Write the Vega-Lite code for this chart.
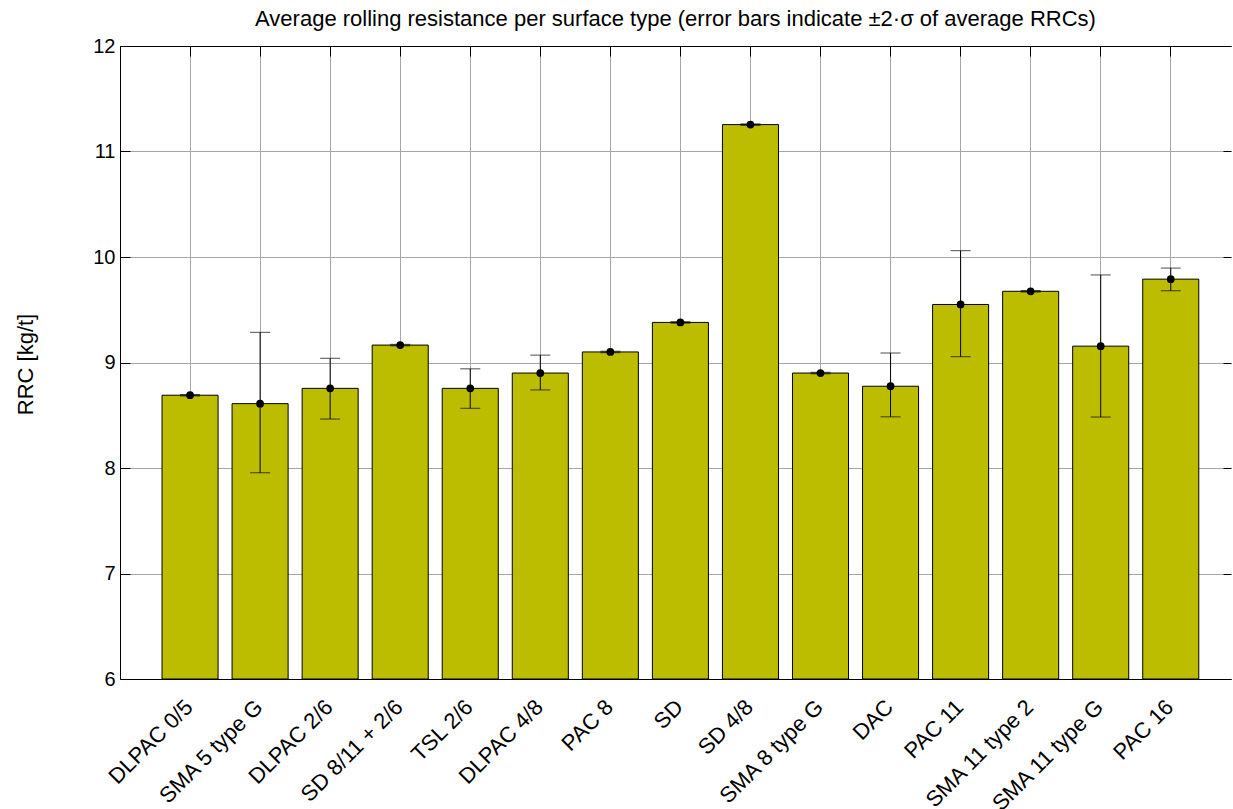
{
  "$schema": "https://vega.github.io/schema/vega-lite/v6.json",
  "width": 1111,
  "height": 633,
  "autosize": {"type": "none"},
  "padding": {"left": 120, "top": 46, "right": 2, "bottom": 130},
  "background": "white",
  "title": {
    "text": "Average rolling resistance per surface type (error bars indicate ±2·σ of average RRCs)",
    "font": "Liberation Sans",
    "fontSize": 22,
    "fontWeight": "normal",
    "color": "black",
    "offset": 5,
    "anchor": "middle"
  },
  "config": {
    "view": {"stroke": null},
    "axis": {
      "labelFont": "Liberation Sans",
      "titleFont": "Liberation Sans",
      "labelColor": "black",
      "titleColor": "black",
      "labelFontSize": 20,
      "titleFontSize": 22,
      "titleFontWeight": "normal",
      "domainColor": "black",
      "domainWidth": 1,
      "tickColor": "black",
      "tickWidth": 1,
      "gridColor": "#a6a6a6",
      "gridOpacity": 1,
      "gridWidth": 1
    }
  },
  "data": {
    "values": [
      {"surface": "DLPAC 0/5", "rrc": 8.69, "lo": 8.683, "hi": 8.697},
      {"surface": "SMA 5 type G", "rrc": 8.61, "lo": 7.955, "hi": 9.286},
      {"surface": "DLPAC 2/6", "rrc": 8.755, "lo": 8.464, "hi": 9.04},
      {"surface": "SD 8/11 + 2/6", "rrc": 9.165, "lo": 9.158, "hi": 9.172},
      {"surface": "TSL 2/6", "rrc": 8.755, "lo": 8.566, "hi": 8.94},
      {"surface": "DLPAC 4/8", "rrc": 8.9, "lo": 8.74, "hi": 9.07},
      {"surface": "PAC 8", "rrc": 9.1, "lo": 9.093, "hi": 9.107},
      {"surface": "SD", "rrc": 9.38, "lo": 9.373, "hi": 9.387},
      {"surface": "SD 4/8", "rrc": 11.255, "lo": 11.248, "hi": 11.262},
      {"surface": "SMA 8 type G", "rrc": 8.9, "lo": 8.893, "hi": 8.907},
      {"surface": "DAC", "rrc": 8.775, "lo": 8.485, "hi": 9.09},
      {"surface": "PAC 11", "rrc": 9.55, "lo": 9.055, "hi": 10.06},
      {"surface": "SMA 11 type 2", "rrc": 9.675, "lo": 9.668, "hi": 9.682},
      {"surface": "SMA 11 type G", "rrc": 9.155, "lo": 8.483, "hi": 9.83},
      {"surface": "PAC 16", "rrc": 9.79, "lo": 9.68, "hi": 9.895}
    ]
  },
  "layer": [
    {
      "mark": {"type": "bar", "fill": "#bdbd00", "stroke": "black", "strokeWidth": 1},
      "encoding": {
        "x": {
          "field": "surface", "type": "nominal", "sort": null,
          "scale": {"paddingInner": 0.2, "paddingOuter": 0.53, "align": 0.566},
          "axis": {"orient": "bottom", "title": null, "labelAngle": -45, "labelFontSize": 22, "ticks": false, "grid": true, "bandPosition": 0.5, "labelPadding": 17, "labelOffset": -8, "domain": true}
        },
        "y": {
          "field": "rrc", "type": "quantitative",
          "scale": {"domain": [6, 12], "zero": false, "nice": false},
          "axis": {"orient": "left", "title": "RRC [kg/t]", "values": [6, 7, 8, 9, 10, 11, 12], "format": "d", "tickSize": -10, "labelPadding": 15, "grid": true, "titleX": -83, "titleY": 318}
        },
        "y2": {"datum": 6}
      }
    },
    {
      "mark": {"type": "rule", "color": "black", "strokeWidth": 1},
      "encoding": {
        "x": {
          "field": "surface", "type": "nominal", "sort": null,
          "axis": {"orient": "top", "title": null, "labels": false, "ticks": true, "tickSize": -10, "grid": false, "bandPosition": 0.5, "domain": true}
        },
        "y": {
          "field": "lo", "type": "quantitative",
          "axis": {"orient": "right", "title": null, "labels": false, "values": [6, 7, 8, 9, 10, 11, 12], "tickSize": -8, "grid": false, "domain": false}
        },
        "y2": {"field": "hi"}
      }
    },
    {
      "mark": {"type": "tick", "color": "black", "size": 20, "thickness": 1},
      "encoding": {
        "x": {"field": "surface", "type": "nominal", "sort": null, "axis": null},
        "y": {"field": "lo", "type": "quantitative", "axis": null}
      }
    },
    {
      "mark": {"type": "tick", "color": "black", "size": 20, "thickness": 1},
      "encoding": {
        "x": {"field": "surface", "type": "nominal", "sort": null, "axis": null},
        "y": {"field": "hi", "type": "quantitative", "axis": null}
      }
    },
    {
      "mark": {"type": "point", "filled": true, "color": "black", "size": 60, "opacity": 1},
      "encoding": {
        "x": {"field": "surface", "type": "nominal", "sort": null, "axis": null},
        "y": {"field": "rrc", "type": "quantitative", "axis": null}
      }
    }
  ],
  "resolve": {"axis": {"x": "independent", "y": "independent"}}
}
